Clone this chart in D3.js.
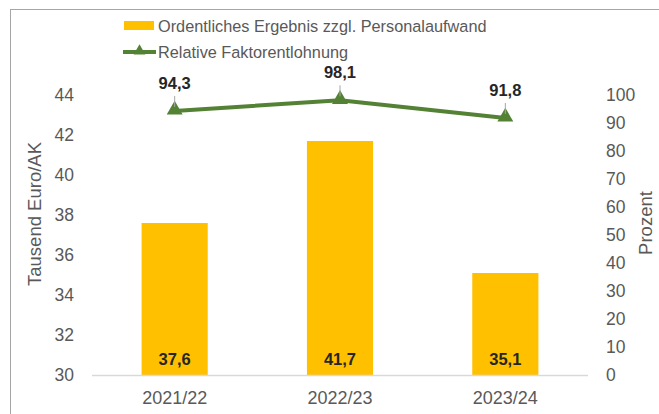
<!DOCTYPE html>
<html><head><meta charset="utf-8">
<script src="https://cdn.jsdelivr.net/npm/d3@7"></script>
<style>
body{margin:0;background:#fff;}
svg{display:block;font-family:"Liberation Sans",Arial,sans-serif;}
</style></head>
<body><svg id="c" width="659" height="414"></svg>
<script>
const categories = ["2021/22", "2022/23", "2023/24"];
const barValues = [37.6, 41.7, 35.1];
const lineValues = [94.3, 98.1, 91.8];
const leftTicks = [30, 32, 34, 36, 38, 40, 42, 44];
const rightTicks = [0, 10, 20, 30, 40, 50, 60, 70, 80, 90, 100];
const barSeriesName = "Ordentliches Ergebnis zzgl. Personalaufwand";
const lineSeriesName = "Relative Faktorentlohnung";
const leftTitle = "Tausend Euro/AK";
const rightTitle = "Prozent";
const fmt = v => d3.format(".1f")(v).replace(".", ",");

const svg = d3.select("#c");
const yellow = "#FFC000", green = "#548235", gray = "#595959";

// frame
svg.append("rect").attr("x", 10.5).attr("y", 9.5).attr("width", 700).attr("height", 500)
  .attr("fill", "none").attr("stroke", "#a6a6a6").attr("stroke-width", 1);

const x = d3.scaleBand().domain(categories).range([92, 588]).paddingInner(0.6).paddingOuter(0.3);
const yL = d3.scaleLinear().domain([30, 44]).range([375, 95]);
const yR = d3.scaleLinear().domain([0, 100]).range([375, 95]);

// left axis
const axL = svg.append("g").attr("transform", "translate(80,0)")
  .call(d3.axisLeft(yL).tickValues(leftTicks).tickSize(0).tickPadding(0).tickFormat(d => d));
axL.select(".domain").remove();
axL.selectAll("text").attr("fill", gray).style("font-size", "17.5px").attr("font-family", null).attr("x", -6);

// right axis
const axR = svg.append("g").attr("transform", "translate(600,0)")
  .call(d3.axisRight(yR).tickValues(rightTicks).tickSize(0).tickPadding(0).tickFormat(d => d));
axR.select(".domain").remove();
axR.selectAll("text").attr("fill", gray).style("font-size", "17.5px").attr("font-family", null).attr("x", 6);

// bars
svg.append("g").selectAll("rect").data(barValues).join("rect")
  .attr("x", (d, i) => x(categories[i]))
  .attr("width", x.bandwidth())
  .attr("y", d => yL(d))
  .attr("height", d => yL(30) - yL(d))
  .attr("fill", yellow);

// baseline
svg.append("line").attr("x1", 92).attr("x2", 588).attr("y1", yL(30) + 0.5).attr("y2", yL(30) + 0.5)
  .attr("stroke", "#d9d9d9").attr("stroke-width", 1.5);

// category axis
const axX = svg.append("g").attr("transform", `translate(0,${yL(30)})`)
  .call(d3.axisBottom(x).tickSize(0).tickPadding(16));
axX.select(".domain").remove();
axX.selectAll("text").attr("fill", gray).style("font-size", "18px").attr("font-family", null);

// bar labels
svg.append("g").selectAll("text").data(barValues).join("text")
  .attr("x", (d, i) => x(categories[i]) + x.bandwidth() / 2)
  .attr("y", yL(30) - 10)
  .attr("text-anchor", "middle")
  .attr("font-weight", "bold").attr("font-size", "16.5px").attr("fill", "#262626")
  .text(fmt);

// line
const cx = (d, i) => x(categories[i]) + x.bandwidth() / 2;
svg.append("path").datum(lineValues)
  .attr("d", d3.line().x(cx).y(d => yR(d)))
  .attr("fill", "none").attr("stroke", green).attr("stroke-width", 4).attr("stroke-linejoin", "round");
const tri = d3.symbol().type(d3.symbolTriangle).size(110);
svg.append("g").selectAll("path").data(lineValues).join("path")
  .attr("d", tri)
  .attr("transform", (d, i) => `translate(${cx(d, i)},${yR(d) - 1})`)
  .attr("fill", green);

// leader lines + line labels
svg.append("g").selectAll("line").data(lineValues).join("line")
  .attr("x1", cx).attr("x2", cx)
  .attr("y1", d => yR(d) - 15).attr("y2", d => yR(d) - 4)
  .attr("stroke", "#a6a6a6").attr("stroke-width", 1);
svg.append("g").selectAll("text").data(lineValues).join("text")
  .attr("x", cx)
  .attr("y", d => yR(d) - 22)
  .attr("text-anchor", "middle")
  .attr("font-weight", "bold").attr("font-size", "16.5px").attr("fill", "#262626")
  .text(fmt);

// axis titles
svg.append("text").attr("transform", "translate(40.5,214) rotate(-90)")
  .attr("text-anchor", "middle").attr("fill", gray).attr("font-size", "18.5px").text(leftTitle);
svg.append("text").attr("transform", "translate(651.5,223) rotate(-90)")
  .attr("text-anchor", "middle").attr("fill", gray).attr("font-size", "18.5px").text(rightTitle);

// legend
const lg = svg.append("g");
lg.append("rect").attr("x", 124).attr("y", 21).attr("width", 30).attr("height", 9).attr("fill", yellow);
lg.append("text").attr("x", 158).attr("y", 26).attr("dy", "0.35em").attr("fill", gray).attr("font-size", "16.3px").text(barSeriesName);
lg.append("line").attr("x1", 123).attr("x2", 156).attr("y1", 52).attr("y2", 52).attr("stroke", green).attr("stroke-width", 4);
lg.append("path").attr("d", d3.symbol().type(d3.symbolTriangle).size(60)).attr("transform", "translate(139.5,51)").attr("fill", green);
lg.append("text").attr("x", 158).attr("y", 52).attr("dy", "0.35em").attr("fill", gray).attr("font-size", "16.3px").text(lineSeriesName);
</script></body></html>
